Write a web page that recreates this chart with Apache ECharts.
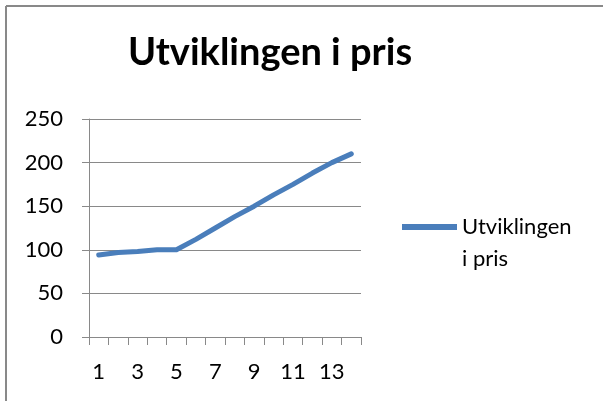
<!DOCTYPE html>
<html>
<head>
<meta charset="utf-8">
<script src="https://cdn.jsdelivr.net/npm/echarts@6/dist/echarts.min.js"></script>
<style>
  html, body { margin: 0; padding: 0; background: #fff; }
  #chart { width: 603px; height: 401px; }
</style>
</head>
<body>
<div id="chart"></div>
<script>
// data
const periods = ['1', '2', '3', '4', '5', '6', '7', '8', '9', '10', '11', '12', '13', '14']
const prices = [94, 97, 98, 100, 100, 112, 125, 138, 150, 163, 175, 188, 200, 210]
const seriesName = 'Utviklingen i pris'

const font = 'Lato, "Open Sans", sans-serif'
const gray = '#898989'

const chart = echarts.init(document.getElementById('chart'))

const option = {
    backgroundColor: '#fff',
    animation: false,
    title: {
        text: 'Utviklingen i pris',
        left: 265,
        top: 29,
        textAlign: 'center',
        textStyle: {
            fontFamily: font,
            fontSize: 38,
            fontWeight: 'bold',
            color: '#000',
        },
    },
    legend: {
        data: [seriesName],
        left: 402,
        top: 184,
        padding: 0,
        itemWidth: 55,
        itemHeight: 6,
        itemGap: 5,
        icon: 'path://M0,0 L55,0 L55,6 L0,6 Z',
        // empty first line keeps "Utviklingen" level with the line sample
        formatter: () => '{e| }\n{t|Utviklingen}\n{t|i pris}',
        textStyle: {
            rich: {
                e: {fontFamily: font, fontSize: 22, lineHeight: 32},
                t: {fontFamily: font, fontSize: 22, lineHeight: 32, color: '#000'},
            },
        },
    },
    graphic: [
        // chart frame (only top and left edges are inside the picture)
        {type: 'line', shape: {x1: 6, y1: 6, x2: 603, y2: 6}, style: {stroke: gray, lineWidth: 2}},
        {type: 'line', shape: {x1: 6, y1: 6, x2: 6, y2: 401}, style: {stroke: gray, lineWidth: 2}},
    ],
    grid: {
        left: 89,
        top: 119,
        right: 242,
        bottom: 64,
    },
    xAxis: {
        type: 'category',
        data: periods,
        boundaryGap: true,
        axisLine: {lineStyle: {color: gray, width: 1}},
        axisTick: {show: true, length: 8, interval: 0, lineStyle: {color: gray}},
        axisLabel: {
            interval: 1,
            margin: 24,
            fontFamily: font,
            fontSize: 22,
            color: '#000',
        },
    },
    yAxis: {
        type: 'value',
        min: 0,
        max: 250,
        interval: 50,
        axisLine: {show: true, lineStyle: {color: gray, width: 1}},
        axisTick: {show: true, length: 7, lineStyle: {color: gray}},
        splitLine: {lineStyle: {color: gray, width: 1}},
        axisLabel: {
            margin: 26,
            fontFamily: font,
            fontSize: 22,
            color: '#000',
        },
    },
    series: [{
        name: seriesName,
        type: 'line',
        data: prices,
        showSymbol: false,
        symbol: 'none',
        color: '#4A7EBB',
        lineStyle: {width: 5, color: '#4A7EBB', cap: 'round', join: 'round'},
    }],
}

chart.setOption(option)
</script>
</body>
</html>
